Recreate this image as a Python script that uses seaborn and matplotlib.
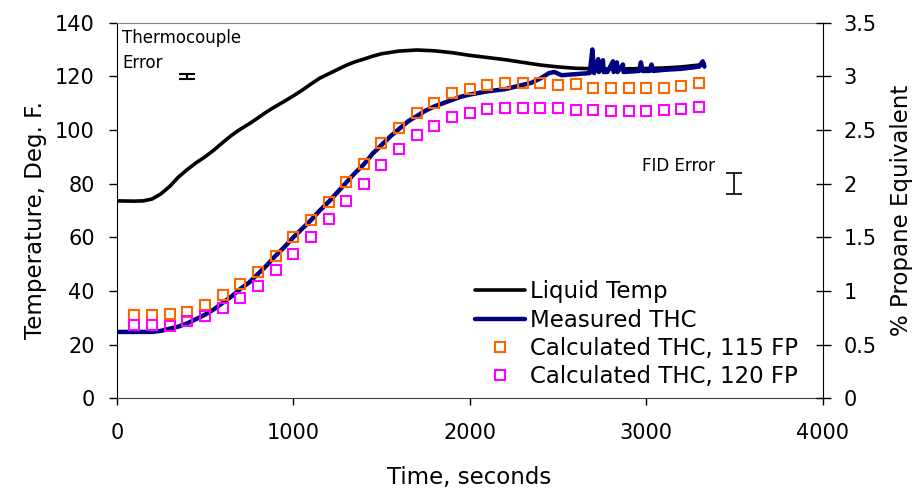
import matplotlib
matplotlib.use("Agg")
import matplotlib.pyplot as plt
import seaborn as sns
from matplotlib.ticker import FormatStrFormatter

# Liquid temperature, deg F (left axis)
temp_time = [0, 100, 150, 200, 250, 300, 350, 400, 450, 500, 550, 600, 650, 700, 750,
             800, 850, 900, 950, 1000, 1050, 1100, 1150, 1200, 1250, 1300, 1350, 1400,
             1450, 1500, 1600, 1700, 1800, 1900, 2000, 2100, 2200, 2300, 2400, 2500,
             2600, 2700, 2800, 2900, 3000, 3100, 3200, 3300, 3330]
liquid_temp = [73.6, 73.5, 73.6, 74.3, 76.2, 79.0, 82.5, 85.3, 87.8, 90.0, 92.5, 95.3,
               98.0, 100.3, 102.3, 104.5, 106.8, 108.8, 110.7, 112.7, 114.8, 117.1,
               119.3, 120.9, 122.5, 124.1, 125.4, 126.4, 127.5, 128.4, 129.4, 129.8,
               129.5, 128.8, 127.8, 127.0, 126.2, 125.2, 124.2, 123.5, 123.0, 122.8,
               122.7, 122.8, 122.9, 123.1, 123.5, 124.2, 124.6]

# Measured THC, % propane equivalent (right axis)
thc_time = [0, 100, 200, 250, 300, 350, 400, 450, 500, 550, 600, 650, 700, 750, 800,
            850, 900, 950, 1000, 1050, 1100, 1150, 1200, 1250, 1300, 1350, 1400, 1450,
            1500, 1550, 1600, 1650, 1700, 1750, 1800, 1850, 1900, 1950, 2000, 2100,
            2200, 2300, 2350, 2400, 2450, 2480, 2520, 2600, 2680, 2695, 2705, 2728,
            2732, 2755, 2759, 2780, 2812, 2816, 2834, 2838, 2868, 2872, 2960, 2970,
            2980, 3020, 3030, 3040, 3100, 3200, 3300, 3320, 3330]
thc_measured = [0.62, 0.62, 0.62, 0.63, 0.65, 0.67, 0.70, 0.74, 0.78, 0.83, 0.89, 0.95,
                1.02, 1.08, 1.16, 1.24, 1.33, 1.41, 1.50, 1.58, 1.66, 1.75, 1.83, 1.92,
                2.01, 2.10, 2.18, 2.28, 2.36, 2.44, 2.51, 2.58, 2.63, 2.68, 2.72, 2.75,
                2.78, 2.81, 2.83, 2.86, 2.88, 2.92, 2.94, 2.98, 3.03, 3.04, 3.01, 3.02,
                3.03, 3.25, 3.03, 3.16, 3.04, 3.15, 3.04, 3.04, 3.14, 3.04, 3.13, 3.04,
                3.11, 3.04, 3.05, 3.13, 3.05, 3.05, 3.11, 3.05, 3.06, 3.07, 3.09, 3.14,
                3.09]

# Calculated THC, % propane equivalent (right axis)
calc_time = [100, 200, 300, 400, 500, 600, 700, 800, 900, 1000, 1100, 1200, 1300, 1400,
             1500, 1600, 1700, 1800, 1900, 2000, 2100, 2200, 2300, 2400, 2500, 2600,
             2700, 2800, 2900, 3000, 3100, 3200, 3300]
calc_115 = [0.775, 0.775, 0.79, 0.81, 0.87, 0.96, 1.07, 1.18, 1.33, 1.50, 1.66, 1.83,
            2.02, 2.18, 2.38, 2.52, 2.66, 2.75, 2.84, 2.88, 2.92, 2.94, 2.935, 2.935,
            2.915, 2.925, 2.895, 2.895, 2.895, 2.895, 2.895, 2.91, 2.935]
calc_120 = [0.68, 0.68, 0.675, 0.72, 0.77, 0.845, 0.94, 1.05, 1.20, 1.35, 1.50, 1.67,
            1.835, 2.00, 2.17, 2.32, 2.45, 2.54, 2.62, 2.66, 2.70, 2.705, 2.705, 2.705,
            2.705, 2.69, 2.685, 2.68, 2.68, 2.68, 2.685, 2.70, 2.71]

sns.set_style("ticks")
plt.rcParams["font.family"] = ["DejaVu Sans"]
plt.rcParams["text.color"] = "black"
plt.rcParams["axes.labelcolor"] = "black"
plt.rcParams["xtick.color"] = "black"
plt.rcParams["ytick.color"] = "black"

fig = plt.figure(figsize=(9.15, 4.98), dpi=100)
ax = fig.add_axes([0.1276, 0.1998, 0.7715, 0.7548])
ax2 = ax.twinx()

sns.lineplot(x=temp_time, y=liquid_temp, ax=ax, color="black", linewidth=2.6,
             errorbar=None, label="Liquid Temp")
sns.lineplot(x=thc_time, y=thc_measured, ax=ax2, color="#000080", linewidth=3.2,
             errorbar=None, label="Measured THC")
sns.lineplot(x=calc_time, y=calc_115, ax=ax2, color="#FF6600", linestyle="none",
             marker="s", markersize=6.5, markerfacecolor="none",
             markeredgecolor="#FF6600", markeredgewidth=1.5, errorbar=None,
             label="Calculated THC, 115 FP")
sns.lineplot(x=calc_time, y=calc_120, ax=ax2, color="#FF00FF", linestyle="none",
             marker="s", markersize=6.5, markerfacecolor="none",
             markeredgecolor="#FF00FF", markeredgewidth=1.5, errorbar=None,
             label="Calculated THC, 120 FP")

# error bars
ax.errorbar([400], [120], yerr=0.9, color="black", capsize=5.5, elinewidth=1.5,
            capthick=1.5)
ax2.errorbar([3500], [2.0], yerr=0.1, color="black", capsize=5.5, elinewidth=1.2,
             capthick=1.2)
ax.text(0.008, 0.983, "Thermocouple\nError", transform=ax.transAxes, ha="left",
        va="top", fontsize=12, linespacing=1.5)
ax.text(3390, 86.7, "FID Error", ha="right", va="center", fontsize=12)

ax.set_xlim(0, 4000)
ax.set_ylim(0, 140)
ax2.set_ylim(0, 3.5)
ax.set_xticks([0, 1000, 2000, 3000, 4000])
ax.set_yticks(range(0, 141, 20))
ax2.set_yticks([0, 0.5, 1, 1.5, 2, 2.5, 3, 3.5])
ax2.yaxis.set_major_formatter(FormatStrFormatter("%g"))

ax.set_xlabel("Time, seconds", fontsize=16.5)
ax.set_ylabel("Temperature, Deg. F.", fontsize=16.5)
ax2.set_ylabel("% Propane Equivalent", fontsize=16.5)
ax.xaxis.set_label_coords(0.499, -0.18)
ax.yaxis.set_label_coords(-0.099, 0.475)
ax2.yaxis.set_label_coords(1.095, 0.5)

ax.tick_params(axis="x", direction="out", length=4.8, width=1, pad=13, labelsize=15)
ax.tick_params(axis="y", direction="out", length=5.8, width=1, pad=10, labelsize=15)
ax2.tick_params(axis="y", direction="inout", length=10.8, width=1, pad=9.4,
                labelsize=15)

ax.spines["right"].set_visible(False)
ax.spines["top"].set_color("#808080")
ax.spines["left"].set_color("black")
ax.spines["bottom"].set_color("#404040")
for side in ["left", "top", "bottom"]:
    ax2.spines[side].set_visible(False)
ax2.spines["right"].set_color("black")

for a in (ax, ax2):
    if a.get_legend() is not None:
        a.get_legend().remove()

h1, l1 = ax.get_legend_handles_labels()
h2, l2 = ax2.get_legend_handles_labels()
ax2.legend(h1 + h2, l1 + l2, loc="upper left", bbox_to_anchor=(0.519, 0.4368),
           bbox_transform=fig.transFigure, frameon=False, fontsize=16.5,
           borderpad=0, borderaxespad=0, handlelength=2.17, handletextpad=0.25,
           labelspacing=0.23)

fig.savefig("out.png", dpi=100)
